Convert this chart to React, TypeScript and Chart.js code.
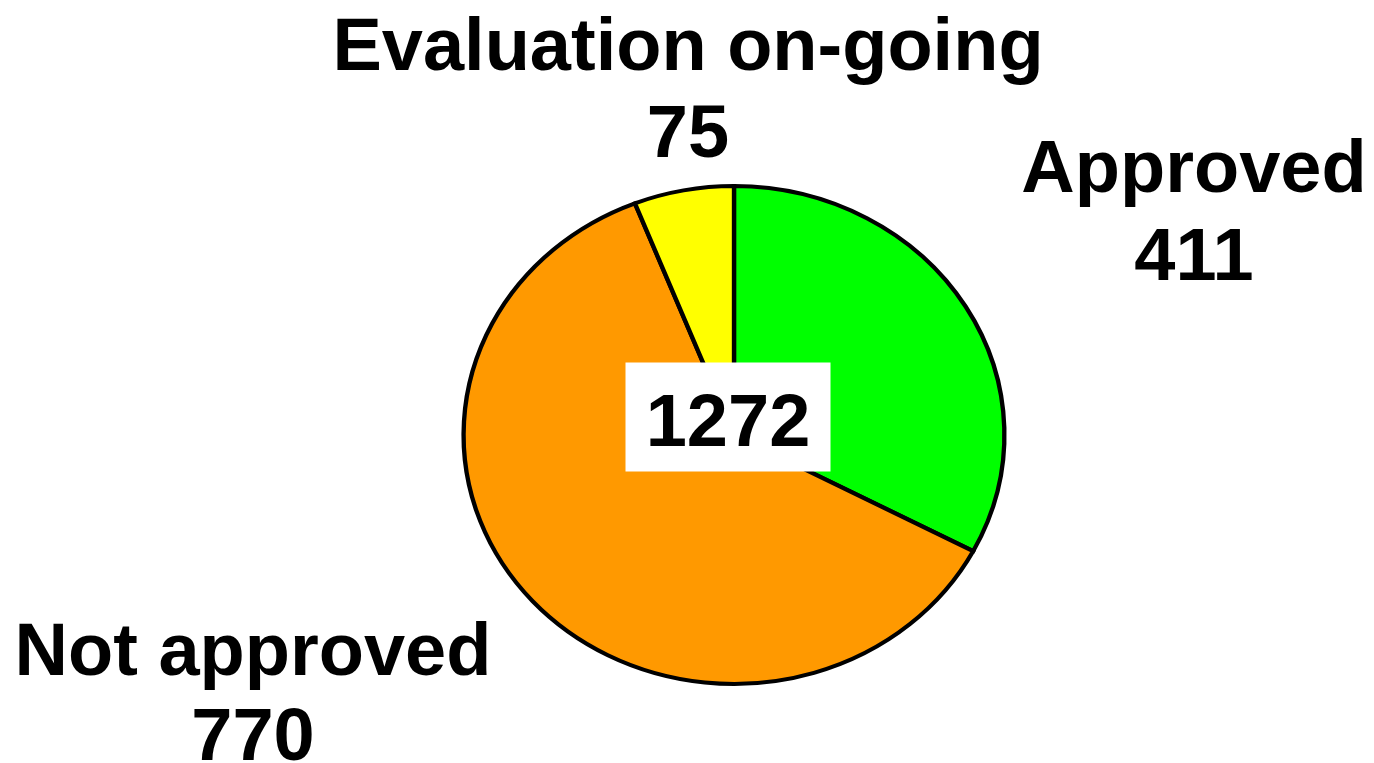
import { useEffect, useRef } from "react";
import { Chart, PieController, ArcElement } from "chart.js";

Chart.register(PieController, ArcElement);

const categories = ["Approved", "Not approved", "Evaluation on-going"];
const values = [411, 770, 75];
const sliceColors = ["#00ff00", "#ff9900", "#ffff00"];
const totalLabel = "1272";

const FONT = 'bold 74px "Liberation Sans", Arial, sans-serif';

// label anchor positions (text centre x, baseline of first line, baseline of second line)
const labelAnchors = [
  { x: 1194, y1: 192, y2: 280 },
  { x: 253, y1: 675, y2: 760 },
  { x: 688, y1: 70, y2: 157 },
];

const stretchPlugin = {
  id: "stretch",
  beforeDatasetsDraw(chart: any) {
    const arc = chart.getDatasetMeta(0).data[0];
    const ctx = chart.ctx;
    ctx.save();
    ctx.translate(arc.x, arc.y);
    ctx.scale(1.086, 1);
    ctx.translate(-arc.x, -arc.y);
  },
  afterDatasetsDraw(chart: any) {
    chart.ctx.restore();
  },
};

const labelPlugin = {
  id: "labels",
  afterDraw(chart: any) {
    const ctx = chart.ctx;
    const arc = chart.getDatasetMeta(0).data[0];
    ctx.save();
    ctx.font = FONT;
    ctx.fillStyle = "#000";
    ctx.textAlign = "center";
    ctx.textBaseline = "alphabetic";
    categories.forEach((c, i) => {
      const a = labelAnchors[i];
      ctx.fillText(c, a.x, a.y1);
      ctx.fillText(String(values[i]), a.x, a.y2);
    });
    // centre total box
    const bw = 205;
    const bh = 109;
    const cx = arc.x - 6;
    const cy = arc.y - 18;
    ctx.fillStyle = "#ffffff";
    ctx.fillRect(cx - bw / 2, cy - bh / 2, bw, bh);
    ctx.fillStyle = "#000";
    ctx.fillText(totalLabel, cx, cy + 29);
    ctx.restore();
  },
};

export default function App() {
  const ref = useRef<HTMLCanvasElement | null>(null);
  useEffect(() => {
    if (!ref.current) return;
    const chart = new Chart(ref.current, {
      type: "pie",
      data: {
        labels: categories,
        datasets: [
          {
            data: values,
            backgroundColor: sliceColors,
            borderColor: "#000000",
            borderWidth: 4,
            borderJoinStyle: "miter" as any,
          },
        ],
      },
      options: {
        responsive: false,
        animation: false,
        radius: 249,
        layout: { padding: { top: 185, bottom: 78, left: 200, right: 106 } },
        plugins: { legend: { display: false }, tooltip: { enabled: false } },
        events: [],
      },
      plugins: [stretchPlugin, labelPlugin],
    });
    return () => chart.destroy();
  }, []);
  return (
    <div style={{ position: "absolute", left: 0, top: 0, width: 1374, height: 763, background: "#fff" }}>
      <canvas ref={ref} width={1374} height={763} style={{ width: 1374, height: 763, display: "block" }} />
    </div>
  );
}
